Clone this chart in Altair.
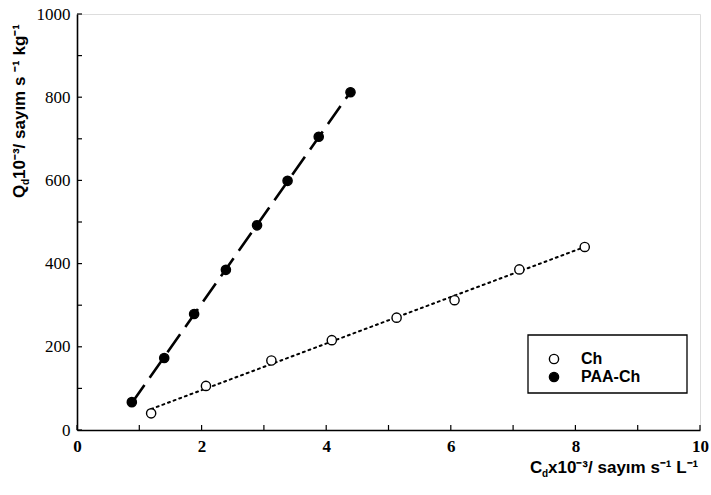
import altair as alt
import pandas as pd

# Desorption data: C_d (x10^-3 counts s^-1 L^-1) vs Q_d (x10^-3 counts s^-1 kg^-1)
ch_x = [1.19, 2.07, 3.12, 4.09, 5.13, 6.06, 7.10, 8.15]
ch_y = [40, 106, 167, 216, 270, 312, 386, 440]
paa_x = [0.88, 1.40, 1.88, 2.39, 2.89, 3.38, 3.88, 4.39]
paa_y = [67, 173, 279, 385, 492, 599, 705, 812]
series = ["Ch", "PAA-Ch"]
x_ticks = list(range(0, 11))
y_ticks = list(range(0, 1001, 100))

W, H = 623, 416
SANS = "Liberation Sans"
SERIF = "Liberation Serif"

df = pd.DataFrame({
    "Cd": ch_x + paa_x,
    "Qd": ch_y + paa_y,
    "seri": [series[0]] * len(ch_x) + [series[1]] * len(paa_x),
})
xt = pd.DataFrame({"v": x_ticks})
yt = pd.DataFrame({"v": y_ticks})

xs = alt.Scale(domain=[0, 10], nice=False, zero=False)
ys = alt.Scale(domain=[0, 1000], nice=False, zero=False)

x_axis = alt.Axis(
    values=x_ticks, format="d", labelExpr="datum.value % 2 == 0 ? datum.label : ''",
    ticks=False, grid=False, domainColor="black", domainWidth=1.6,
    labelFont=SERIF, labelFontWeight="bold", labelFontSize=17, labelColor="black",
    labelPadding=8, labelFlush=False, title=None,
)
y_axis = alt.Axis(
    values=y_ticks, format="d", labelExpr="datum.value % 200 == 0 ? datum.label : ''",
    ticks=False, grid=False, domainColor="black", domainWidth=1.6,
    labelFont=SERIF, labelFontWeight="normal", labelFontSize=17, labelColor="black",
    labelPadding=7, labelFlush=False, title=None,
)

X = alt.X("Cd:Q", scale=xs, axis=x_axis)
Y = alt.Y("Qd:Q", scale=ys, axis=y_axis)

# fitted lines for each sorbent
fit_ch = alt.Chart(df).transform_filter(alt.datum.seri == "Ch").transform_regression(
    "Cd", "Qd", extent=[min(ch_x), max(ch_x)]
).mark_line(color="black", strokeWidth=2, strokeDash=[2, 4], strokeCap="round").encode(x=X, y=Y)

fit_paa = alt.Chart(df).transform_filter(alt.datum.seri == "PAA-Ch").transform_regression(
    "Cd", "Qd", extent=[min(paa_x), max(paa_x)]
).mark_line(color="black", strokeWidth=2.6, strokeDash=[22, 9]).encode(x=X, y=Y)

points = alt.Chart(df).mark_point(
    shape="circle", filled=True, size=85, stroke="black", strokeWidth=1.4, opacity=1
).encode(
    x=X, y=Y,
    fill=alt.Fill("seri:N", scale=alt.Scale(domain=series, range=["white", "black"]),
                  legend=alt.Legend(
                      orient="none", legendX=469, legendY=337, title=None,
                      labelFont=SANS, labelFontWeight="bold", labelFontSize=16,
                      labelColor="black", symbolType="circle", symbolSize=85,
                      symbolStrokeColor="black", symbolStrokeWidth=1.4,
                      labelOffset=19, rowPadding=2, padding=0,
                  )),
)

# inward ticks along both axes
x_tick_marks = alt.Chart(xt).mark_rule(color="black", strokeWidth=1.2).encode(
    x=alt.X("v:Q", scale=xs, axis=x_axis), y=alt.value(H), y2=alt.value(H - 5))
y_tick_marks = alt.Chart(yt).mark_rule(color="black", strokeWidth=1.2).encode(
    y=alt.Y("v:Q", scale=ys, axis=y_axis), x=alt.value(0), x2=alt.value(5))

# legend frame
frame = alt.Chart(pd.DataFrame({"k": [0]})).mark_rect(
    fill="white", stroke="black", strokeWidth=1.3
).encode(x=alt.value(451), x2=alt.value(610), y=alt.value(321), y2=alt.value(379))


def txt(s, x, y, size=17, angle=0, align="left", baseline="alphabetic"):
    return alt.Chart(pd.DataFrame({"t": [s]})).mark_text(
        font=SANS, fontWeight="bold", fontSize=size, color="black",
        angle=angle, align=align, baseline=baseline,
    ).encode(text="t:N", x=alt.value(x), y=alt.value(y))


# y title (rotated), built from pieces so the subscript sits low
ytitle = [
    txt("Q", -52, 184, angle=270),
    txt("d", -48, 171, size=10, angle=270),
    txt(" 10⁻³/ sayım s ⁻¹ kg⁻¹", -52, 165, angle=270),
]
# x title
xtitle = [
    txt("C", 453, 459),
    txt("d", 465, 463, size=10),
    txt("x10⁻³/ sayım s⁻¹ L⁻¹", 471, 459),
]

chart = alt.layer(
    frame, fit_ch, fit_paa, x_tick_marks, y_tick_marks, points, *ytitle, *xtitle
).properties(
    width=W, height=H,
    autosize=alt.AutoSizeParams(type="none"),
    padding={"left": 77, "top": 14, "right": 11, "bottom": 65},
).configure_view(stroke=None).configure(background="white")

chart.save("out.html", embed_options={"renderer": "svg", "actions": False})
